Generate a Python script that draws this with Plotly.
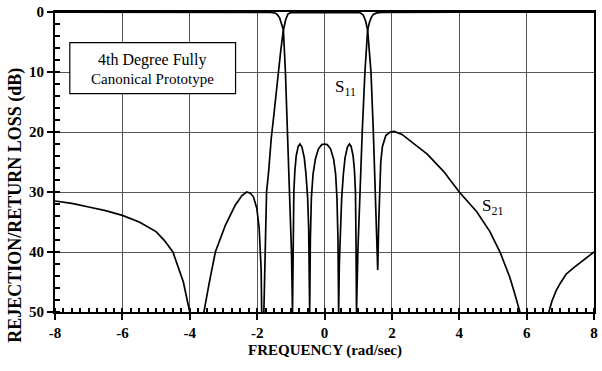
import plotly.graph_objects as go

# S21 (rejection)
s21_x = [-8, -7.5, -7, -6.5, -6, -5.5, -5, -4.75, -4.5, -4.3, -4.19, -4.05, -4.0, -3.8,
         -3.58, -3.43, -3.24, -2.94, -2.65, -2.45, -2.31, -2.2, -2.11, -2.01, -1.94, -1.88, -1.84, -1.82,
         -1.8, -1.76, -1.72, -1.66, -1.58, -1.5, -1.4, -1.3, -1.22, -1.15, -1.08, -1.0, -0.5, 0, 0.5, 1.05,
         1.15, 1.22, 1.28, 1.38, 1.45, 1.51, 1.56, 1.58, 1.61, 1.63, 1.67, 1.72, 1.82, 1.95, 2.07,
         2.3, 2.56, 3.05, 3.54, 4.0, 4.52, 4.91, 5.21, 5.5, 5.65, 5.8, 6.2,
         6.66, 6.75, 6.88, 7.0, 7.17, 7.4, 7.6, 7.8, 8.0]
s21_y = [31.5, 31.9, 32.5, 33.1, 33.9, 35.0, 36.6, 38.1, 40.0, 43.0, 45.0, 48.7, 50, 70,
         50, 45.4, 40, 35.5, 32.2, 30.6, 30.0, 30.2, 30.8, 32.7, 36, 43, 50, 70,
         50, 40, 30, 26.7, 21, 17, 11.5, 6.5, 3, 1.2, 0.3, 0.1, 0.05, 0.05, 0.05, 0.1,
         0.5, 1.5, 3, 10, 20, 30, 40, 43, 35, 30, 25, 22.4, 20.6, 20.0, 19.9,
         20.4, 21.5, 23.7, 26.6, 30, 33.3, 36.6, 40, 44.2, 47, 50, 70,
         50, 48.2, 46.4, 45.2, 43.7, 42.6, 41.7, 40.8, 40.0]

# S11 (return loss)
s11_x = [-8, -4, -2, -1.6, -1.45, -1.39, -1.33, -1.27, -1.22, -1.16, -1.1, -1.03, -0.98, -0.95,
         -0.93, -0.91, -0.88, -0.84, -0.78, -0.73, -0.67, -0.6, -0.55, -0.5, -0.47, -0.45, -0.44,
         -0.42, -0.39, -0.34, -0.27, -0.18, -0.08, 0, 0.08, 0.18, 0.27, 0.33, 0.37, 0.40, 0.42,
         0.44, 0.47, 0.51, 0.56, 0.61, 0.68, 0.74, 0.79, 0.85, 0.89, 0.92, 0.935, 0.95,
         0.99, 1.05, 1.12, 1.2, 1.28, 1.33, 1.39, 1.45, 1.55, 1.7, 2.0, 4, 8]
s11_y = [0.02, 0.02, 0.03, 0.05, 0.2, 0.5, 1.0, 1.9, 3, 10, 20, 30, 40, 50,
         38, 30, 26.5, 24, 22.4, 22, 22.5, 24.3, 27, 31, 36, 42, 50,
         38, 31, 27, 24.5, 22.8, 22.1, 22, 22.1, 22.8, 24.5, 27, 31, 38, 50,
         42, 36, 31, 27, 24.3, 22.5, 22, 22.4, 24, 26.5, 30, 38, 50,
         40, 30, 20, 10, 3, 1.8, 0.9, 0.4, 0.15, 0.05, 0.04, 0.02, 0.02]

x_ticks = [-8, -6, -4, -2, 0, 2, 4, 6, 8]
x_ticklabels = ["-8", "-6", "-4", "-2", "0", "2", "4", "6", "8"]
y_ticks = [0, 10, 20, 30, 40, 50]

serif = "Liberation Serif"

fig = go.Figure()
fig.add_trace(go.Scatter(x=s21_x, y=s21_y, mode="lines", name="S21",
                         line=dict(color="black", width=1.7), showlegend=False))
fig.add_trace(go.Scatter(x=s11_x, y=s11_y, mode="lines", name="S11",
                         line=dict(color="black", width=1.7), showlegend=False))

axis_common = dict(
    showline=True, linecolor="black", linewidth=2, mirror=True,
    showgrid=True, gridcolor="#555", gridwidth=1,
    ticks="outside", ticklen=6, tickcolor="black", tickwidth=1.5,
    zeroline=False, ticklabeloverflow="allow",
    tickfont=dict(family=serif, size=15, color="black", weight="bold"),
)

fig.update_xaxes(range=[-8, 8], tickvals=x_ticks, ticktext=x_ticklabels,
                 minor=dict(dtick=0.25, ticks="inside", ticklen=4, tickcolor="black", showgrid=False),
                 **axis_common)
fig.update_yaxes(range=[50, 0], tickvals=y_ticks,
                 minor=dict(dtick=2, ticks="inside", ticklen=5, tickcolor="black", showgrid=False),
                 **axis_common)

fig.add_shape(type="rect", xref="x", yref="y", x0=-7.56, x1=-2.64, y0=5.1, y1=13.6,
              line=dict(color="black", width=1.2), fillcolor="white", layer="above")

fig.add_annotation(x=-5.11, y=8.0, xref="x", yref="y", text="4th Degree Fully", showarrow=False,
                   font=dict(family=serif, size=16, color="black"))
fig.add_annotation(x=-5.11, y=11.1, xref="x", yref="y", text="Canonical Prototype", showarrow=False,
                   font=dict(family=serif, size=15, color="black"))
fig.add_annotation(x=0.63, y=12.6, xref="x", yref="y", text="S<sub>11</sub>", showarrow=False,
                   font=dict(family=serif, size=17, color="black"))
fig.add_annotation(x=4.99, y=32.5, xref="x", yref="y", text="S<sub>21</sub>", showarrow=False,
                   font=dict(family=serif, size=17, color="black"))

fig.add_annotation(text="FREQUENCY (rad/sec)", xref="paper", yref="paper", x=0.5, y=-0.13,
                   yanchor="middle", showarrow=False,
                   font=dict(family=serif, size=15, color="black", weight="bold"))
fig.add_annotation(text="REJECTION/RETURN LOSS (dB)", xref="paper", yref="paper",
                   x=-0.0737, xanchor="center", y=0.355, yanchor="middle", textangle=-90, showarrow=False,
                   font=dict(family=serif, size=18, color="black", weight="bold"))

fig.update_layout(width=602, height=371, margin=dict(l=55, r=4, t=7, b=59),
                  paper_bgcolor="white", plot_bgcolor="white")

fig.write_html("out.html", config={"displayModeBar": False},
               post_script="document.body.style.margin='0';")
